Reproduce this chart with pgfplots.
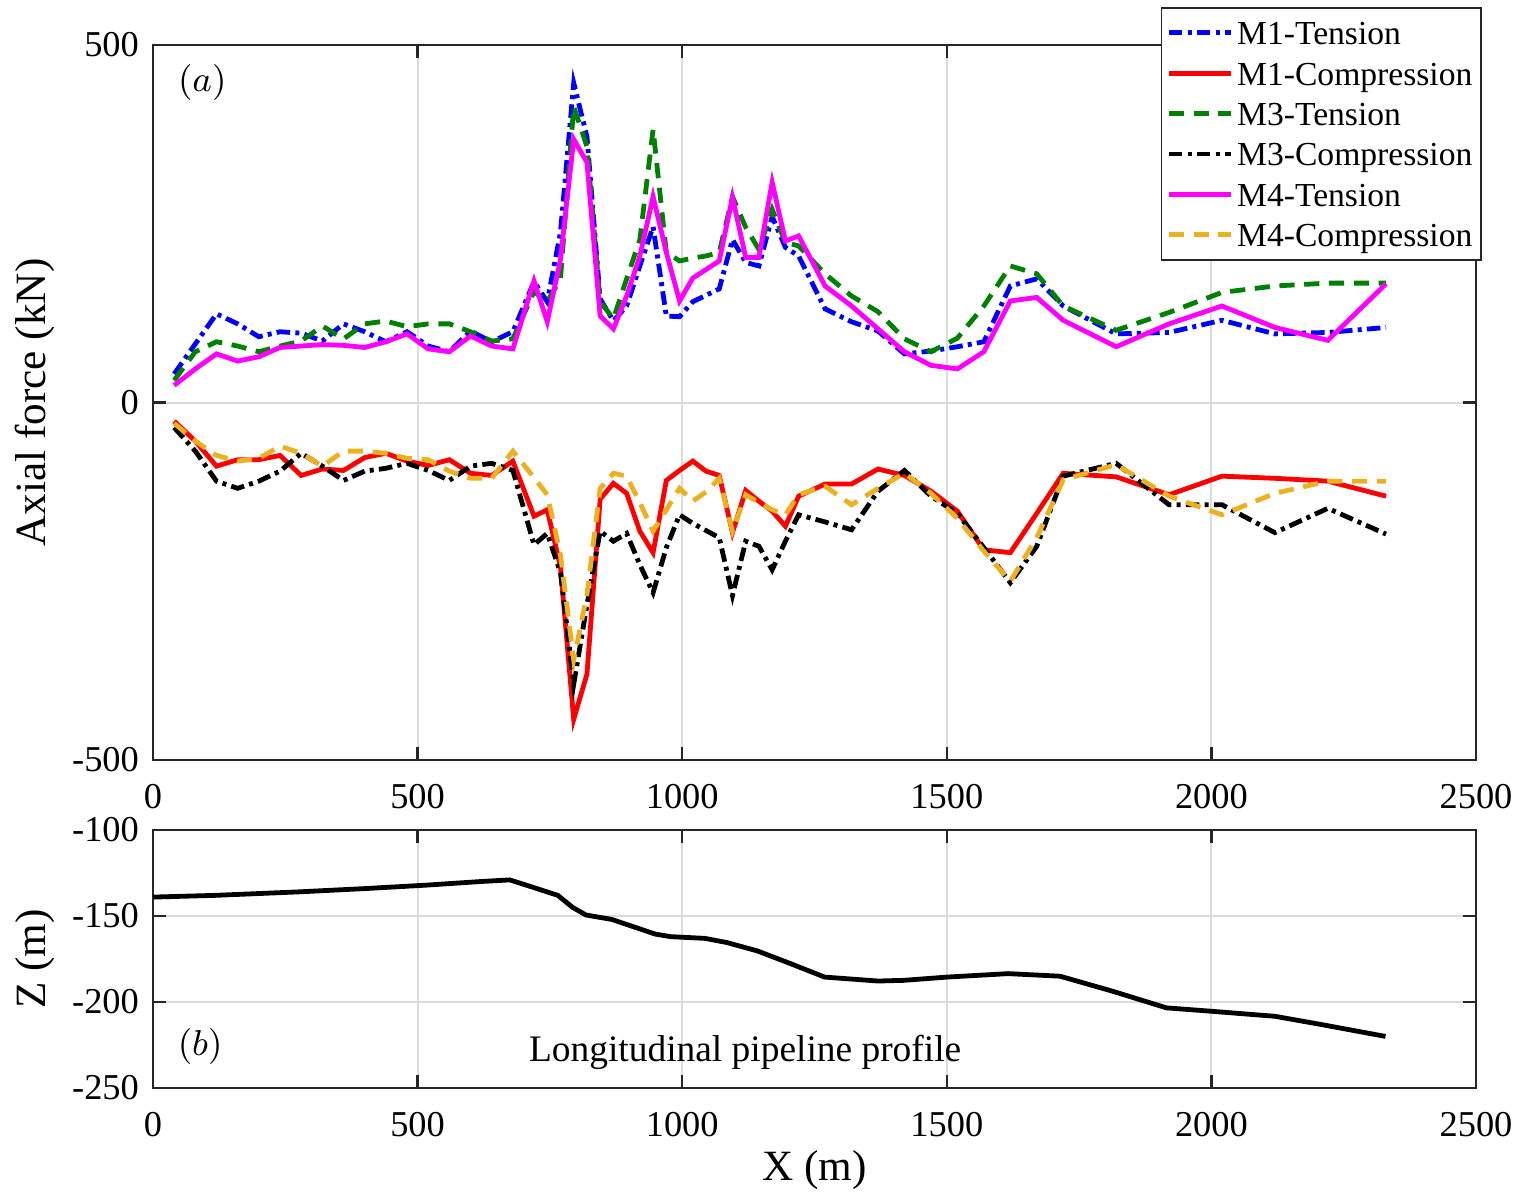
\documentclass[border=0pt]{standalone}
\usepackage[no-math]{fontspec}
\setmainfont{Liberation Serif}
\usepackage{pgfplots}
\usepackage{pgfplotstable}
\pgfplotsset{compat=1.18}
\definecolor{myyel}{rgb}{0.929,0.694,0.125}
\definecolor{mygreen}{rgb}{0,0.5,0}
\definecolor{mymag}{rgb}{1,0,1}
\definecolor{axgray}{rgb}{0.15,0.15,0.15}
\definecolor{gridgray}{rgb}{0.86,0.86,0.86}

\pgfplotstableread{
x m1t m1c m3t m3c m4t m4c
40 40 -26 31 -35 24 -29
80 82 -54 71 -68 47 -54
120 124 -89 85 -110 68 -74
160 110 -80 79 -120 58 -82
200 92 -80 71 -110 64 -78
240 99 -74 79 -96 77 -61
280 97 -102 86 -71 79 -71
320 86 -93 107 -89 81 -89
360 110 -95 89 -109 80 -68
400 99 -77 110 -96 77 -68
440 85 -71 114 -92 85 -71
480 99 -82 106 -85 96 -78
520 79 -88 110 -95 75 -80
560 71 -80 110 -109 71 -96
600 100 -99 99 -89 93 -106
640 85 -102 86 -85 79 -106
680 99 -82 89 -95 75 -68
720 169 -159 155 -199 170 -105
745 141 -150 141 -183 113 -129
770 238 -230 173 -238 200 -213
795 447 -443 414 -394 368 -360
820 372 -380 358 -283 336 -269
845 145 -135 141 -180 121 -120
870 114 -113 117 -194 103 -99
895 135 -127 173 -183 149 -103
920 191 -180 228 -227 205 -140
945 246 -210 382 -266 288 -180
970 121 -109 210 -203 210 -150
995 120 -95 198 -157 142 -120
1020 141 -82 202 -169 174 -138
1045 150 -96 205 -179 186 -125
1070 159 -102 210 -189 198 -106
1095 228 -182 288 -270 287 -180
1120 196 -123 245 -194 203 -129
1145 191 -138 214 -201 203 -140
1170 260 -152 270 -234 308 -150
1195 217 -173 224 -194 226 -157
1220 205 -131 219 -157 233 -129
1270 131 -114 180 -167 163 -117
1320 113 -114 149 -178 135 -143
1370 100 -93 127 -124 103 -120
1420 68 -102 89 -95 71 -99
1470 72 -124 71 -131 52 -127
1520 78 -152 90 -155 47 -162
1570 85 -206 135 -203 71 -208
1620 163 -210 191 -252 142 -250
1670 173 -155 180 -201 147 -189
1720 135 -99 135 -103 115 -108
1820 96 -104 101 -85 78 -87
1920 98 -129 126 -143 110 -131
2020 115 -103 154 -143 135 -157
2120 96 -106 163 -182 105 -127
2220 98 -110 167 -148 87 -110
2330 105 -131 167 -184 166 -110
}\forcedata

\pgfplotstableread{
x z
0 -139
117 -138
273 -136
404 -134
519 -132
617 -130
674 -129
715 -133
765 -138
793 -145
818 -149.4
867 -152
949 -160.5
978 -162
1043 -163
1084 -165.4
1142 -170.3
1199 -177
1269 -185.5
1370 -187.8
1419 -187.4
1501 -185.5
1616 -183.5
1714 -185
1813 -193.7
1915 -203.4
2001 -205.4
2120 -208.3
2206 -213
2329 -220
}\profiledata

\pgfplotsset{
  mybase/.style={
    scale only axis, width=330.75pt,
    xmin=0, xmax=2500, xtick={0,500,...,2500},
    grid=major, major grid style={gridgray, line width=0.5pt},
    tick align=inside, major tick length=3.3pt,
    axis line style={axgray, line width=0.6pt},
    tick style={axgray, line width=0.6pt},
    ticklabel style={font=\fontsize{9.1}{10}\selectfont},
    xticklabel style={yshift=-2.5pt},
    /pgf/number format/assume math mode=true,
    /pgf/number format/1000 sep={},
    label style={font=\fontsize{10.8}{12}\selectfont},
    ylabel style={at={(axis description cs:-0.089,0.5)}, anchor=center, rotate=0},
  },
  dashdot/.style={dash pattern=on 3.4pt off 1.3pt on 1pt off 1.3pt},
  mydash/.style={dash pattern=on 3.8pt off 2.4pt},
}

\begin{document}
\begin{tikzpicture}
\useasboundingbox (-38.25pt,-108pt) rectangle (342.5pt,190pt);
\begin{axis}[mybase,
  height=178.75pt,
  ymin=-500, ymax=500, ytick={-500,0,500},
  ylabel={Axial force (kN)},
  legend cell align=left,
  legend image code/.code={\draw[#1] (0pt,0pt) -- (15.5pt,0pt);},
  legend style={at={(axis description cs:1,1)}, anchor=north east,
    xshift=1.5pt, yshift=9.5pt, draw=axgray, line width=0.4pt,
    font=\fontsize{8.4}{10}\selectfont, inner sep=1.2pt, row sep=0pt,
    nodes={inner sep=1pt, text height=7pt, text depth=1.1pt}},
]
\addplot[blue, line width=1.2pt, dashdot] table[x=x,y=m1t]{\forcedata};
\addlegendentry{M1-Tension}
\addplot[red, line width=1.2pt] table[x=x,y=m1c]{\forcedata};
\addlegendentry{M1-Compression}
\addplot[mygreen, line width=1.2pt, mydash] table[x=x,y=m3t]{\forcedata};
\addlegendentry{M3-Tension}
\addplot[black, line width=1.2pt, dashdot] table[x=x,y=m3c]{\forcedata};
\addlegendentry{M3-Compression}
\addplot[mymag, line width=1.2pt] table[x=x,y=m4t]{\forcedata};
\addlegendentry{M4-Tension}
\addplot[myyel, line width=1.2pt, mydash] table[x=x,y=m4c]{\forcedata};
\addlegendentry{M4-Compression}
\node[font=\fontsize{9}{10}\selectfont] at (axis cs:93,447) {$(a)$};
\end{axis}
\begin{axis}[mybase,
  at={(0,-17.5pt)}, anchor=north west,
  height=64.5pt,
  ymin=-250, ymax=-100, ytick={-250,-200,-150,-100},
  ylabel={Z (m)}, xlabel={X (m)},
  xlabel style={at={(axis description cs:0.5,-0.32)}, anchor=center},
]
\addplot[black, line width=1.2pt] table[x=x,y=z]{\profiledata};
\node[font=\fontsize{9}{10}\selectfont] at (axis cs:89,-226) {$(b)$};
\node[font=\fontsize{9.35}{11}\selectfont] at (axis cs:1119,-229) {Longitudinal pipeline profile};
\end{axis}
\end{tikzpicture}
\end{document}
